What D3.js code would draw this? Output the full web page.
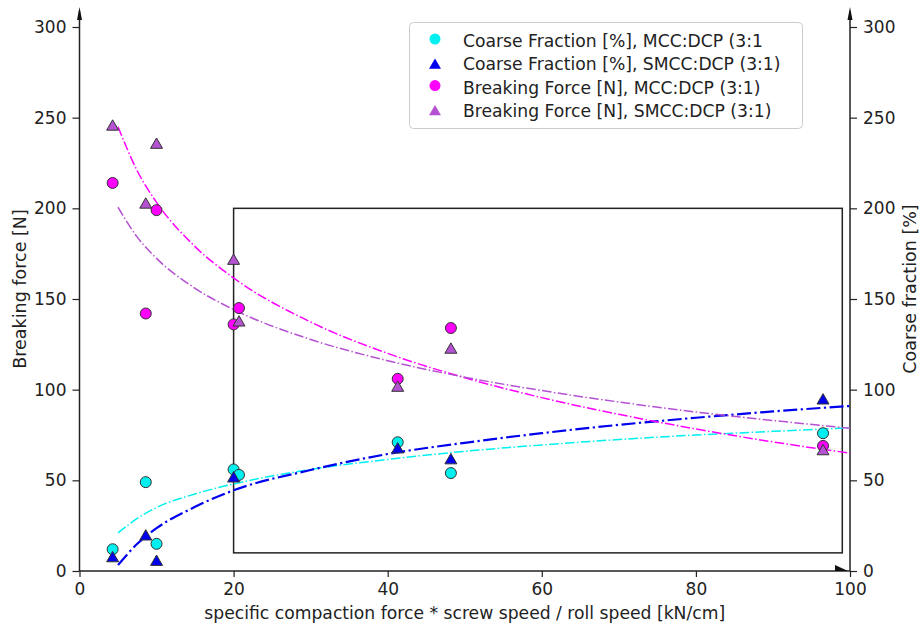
<!DOCTYPE html>
<html>
<head>
<meta charset="utf-8">
<script src="https://cdn.jsdelivr.net/npm/d3@7"></script>
<style>
  html, body { margin: 0; padding: 0; background: #fff; }
  svg { display: block; }
  text { font-family: "DejaVu Sans", sans-serif; fill: #222; }
</style>
</head>
<body>
<svg id="chart" width="920" height="626"></svg>
<script>
// ---- data ----
const xTicks = [0, 20, 40, 60, 80, 100];
const yTicks = [0, 50, 100, 150, 200, 250, 300];

// measured points
const xMccCoarse   = [4.3, 8.6, 10.0, 20.0, 20.7, 41.3, 48.2, 96.5];
const yMccCoarse   = [12, 49, 15, 56, 53, 71, 54, 76];
const xSmccCoarse  = [4.3, 8.6, 10.0, 20.0, 41.3, 48.2, 96.5];
const ySmccCoarse  = [7, 19, 5, 51, 67, 61, 94];
const xMccForce    = [4.3, 8.6, 10.0, 20.0, 20.7, 41.3, 48.2, 96.5];
const yMccForce    = [214, 142, 199, 136, 145, 106, 134, 69];
const xSmccForce   = [4.3, 8.6, 10.0, 20.0, 20.7, 41.3, 48.2, 96.5];
const ySmccForce   = [245, 202, 235, 171, 137, 101, 122, 66];

// trend curves
const xFit          = [5, 7.5, 10, 15, 20, 30, 40, 50, 60, 70, 80, 90, 100];
const yFitMccCoarse = [21, 29, 35, 42.5, 48, 56, 61.5, 66, 69.5, 72.5, 75, 77, 79];
const yFitSmccCoarse= [3.3, 15, 23.6, 35.4, 44.5, 55.7, 64.5, 70.7, 76, 80.6, 84.5, 88, 91];
const yFitMccForce  = [245, 220.6, 203.3, 178.9, 161.6, 137.3, 120, 106.6, 95.6, 86.4, 78.3, 71.2, 65];
const yFitSmccForce = [200.6, 184.1, 172.4, 155.9, 144.2, 127.7, 116, 106.9, 99.5, 93.2, 87.7, 83, 78.7];

// highlighted region
const boxX = [20, 99];
const boxY = [10, 200];

const legendLabels = [
  "Coarse Fraction [%], MCC:DCP (3:1",
  "Coarse Fraction [%], SMCC:DCP (3:1)",
  "Breaking Force [N], MCC:DCP (3:1)",
  "Breaking Force [N], SMCC:DCP (3:1)"
];
const colors = ["#00f0f0", "#0000ee", "#ff00ff", "#b452d2"];
const shapes = ["circle", "triangle", "circle", "triangle"];

// ---- drawing ----
const svg = d3.select("#chart");
const x = d3.scaleLinear().domain([0, 100]).range([79.5, 850]);
const y = d3.scaleLinear().domain([0, 300]).range([571, 27]);
const yR = d3.scaleLinear().domain([0, 300]).range([571, 27]);
const axTop = 7;

// axes
const axL = svg.append("g").attr("transform", `translate(${x(0)},0)`)
  .call(d3.axisLeft(y).tickValues(yTicks).tickSize(7).tickPadding(6));
const axR = svg.append("g").attr("transform", `translate(${x(100)},0)`)
  .call(d3.axisRight(yR).tickValues(yTicks).tickSize(7).tickPadding(6));
const axB = svg.append("g").attr("transform", `translate(0,${y(0)})`)
  .call(d3.axisBottom(x).tickValues(xTicks).tickSize(6).tickPadding(6));
[axL, axR, axB].forEach(g => {
  g.select(".domain").remove();
  g.selectAll(".tick line").attr("stroke", "#222").attr("stroke-width", 1.2);
  g.selectAll(".tick text").style("font-family", "DejaVu Sans").style("font-size", "17px").attr("fill", "#222");
});

// spines
svg.append("line").attr("x1", x(0)).attr("x2", x(0)).attr("y1", y(0)).attr("y2", axTop + 4)
  .attr("stroke", "#222").attr("stroke-width", 1.5);
svg.append("line").attr("x1", x(100)).attr("x2", x(100)).attr("y1", y(0)).attr("y2", axTop + 4)
  .attr("stroke", "#222").attr("stroke-width", 1.5);
svg.append("line").attr("x1", x(0)).attr("x2", x(100)).attr("y1", y(0)).attr("y2", y(0))
  .attr("stroke", "#222").attr("stroke-width", 1.5);
// arrow heads
[x(0), x(100)].forEach(px => {
  svg.append("path").attr("d", `M${px},${axTop} L${px - 2.5},${axTop + 13} L${px + 2.5},${axTop + 13} Z`).attr("fill", "#111");
});
svg.append("path").attr("d", `M${x(100) - 2},${y(0)} L${x(100) - 15},${y(0) - 6} L${x(100) - 15},${y(0)} Z`).attr("fill", "#111");

// box
svg.append("rect").attr("x", x(boxX[0])).attr("y", y(boxY[1]))
  .attr("width", x(boxX[1]) - x(boxX[0])).attr("height", y(boxY[0]) - y(boxY[1]))
  .attr("fill", "none").attr("stroke", "#222").attr("stroke-width", 1.5);

// fit lines
const line = (ys) => d3.line().curve(d3.curveMonotoneX).x((d, i) => x(xFit[i])).y((d) => y(d))(ys);
const fits = [
  { ys: yFitMccCoarse, c: colors[0], w: 1.5, dash: "9.6,2.4,1.5,2.4" },
  { ys: yFitSmccCoarse, c: colors[1], w: 2.2, dash: "14,3.5,2.2,3.5" },
  { ys: yFitMccForce, c: colors[2], w: 1.5, dash: "9.6,2.4,1.5,2.4" },
  { ys: yFitSmccForce, c: colors[3], w: 1.5, dash: "9.6,2.4,1.5,2.4" }
];
fits.forEach(f => {
  svg.append("path").attr("d", line(f.ys)).attr("fill", "none")
    .attr("stroke", f.c).attr("stroke-width", f.w).attr("stroke-dasharray", f.dash);
});

// points
const tri = d3.symbol().type(d3.symbolTriangle).size(62)();
function drawPoints(xs, ys, shape, color) {
  const g = svg.append("g");
  xs.forEach((xv, i) => {
    if (shape === "circle") {
      g.append("circle").attr("cx", x(xv)).attr("cy", y(ys[i])).attr("r", 5.5)
        .attr("fill", color).attr("stroke", "#333").attr("stroke-width", 1);
    } else {
      g.append("path").attr("d", tri).attr("transform", `translate(${x(xv)},${y(ys[i])})`)
        .attr("fill", color).attr("stroke", "#333").attr("stroke-width", 1);
    }
  });
}
drawPoints(xMccCoarse, yMccCoarse, "circle", colors[0]);
drawPoints(xSmccCoarse, ySmccCoarse, "triangle", colors[1]);
drawPoints(xMccForce, yMccForce, "circle", colors[2]);
drawPoints(xSmccForce, ySmccForce, "triangle", colors[3]);

// axis labels
svg.append("text").attr("x", x(50)).attr("y", 619).attr("text-anchor", "middle")
  .style("font-size", "17.2px").text("specific compaction force * screw speed / roll speed [kN/cm]");
svg.append("text").attr("transform", `translate(25.5,289) rotate(-90)`).attr("text-anchor", "middle")
  .style("font-size", "17.5px").text("Breaking force [N]");
svg.append("text").attr("transform", `translate(915.5,289) rotate(-90)`).attr("text-anchor", "middle")
  .style("font-size", "17.5px").text("Coarse fraction [%]");

// legend
const lg = svg.append("g");
lg.append("rect").attr("x", 409.5).attr("y", 22.5).attr("width", 393).attr("height", 106).attr("rx", 4)
  .attr("fill", "#fff").attr("fill-opacity", 0.85).attr("stroke", "#ccc").attr("stroke-width", 1);
legendLabels.forEach((lab, i) => {
  const cy = 41 + i * 23.3;
  if (shapes[i] === "circle") {
    lg.append("circle").attr("cx", 435).attr("cy", cy - 2).attr("r", 5.5).attr("fill", colors[i]);
  } else {
    lg.append("path").attr("d", tri).attr("transform", `translate(435,${cy + 1})`).attr("fill", colors[i]);
  }
  lg.append("text").attr("x", 463).attr("y", cy).attr("dominant-baseline", "central")
    .style("font-size", "17.2px").text(lab);
});
</script>
</body>
</html>
